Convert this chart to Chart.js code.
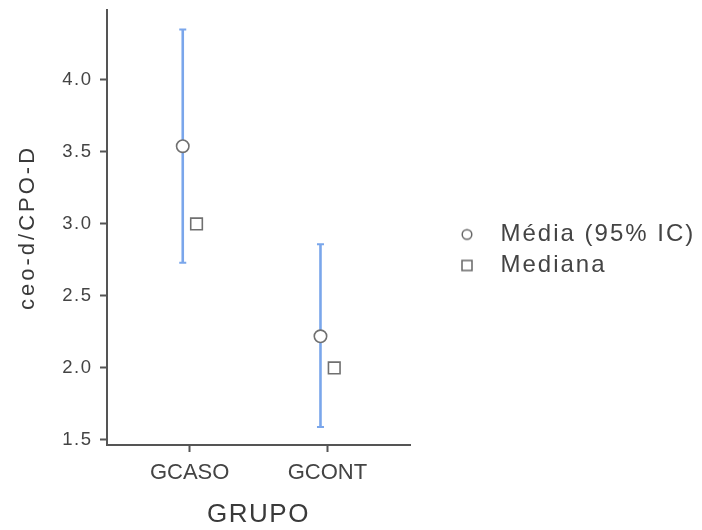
<!DOCTYPE html>
<html><head><meta charset="utf-8">
<script src="https://cdn.jsdelivr.net/npm/chart.js@4"></script>
<style>html,body{margin:0;padding:0;background:#fff}</style>
</head><body>
<canvas id="c" width="702" height="530"></canvas>
<script>
// ---- data ----
const categories = ['GCASO', 'GCONT'];
const meanValues = [3.54, 2.22];
const ciLower = [2.73, 1.59];
const ciUpper = [4.35, 2.86];
const medianValues = [3.0, 2.0];
const yTickValues = [1.5, 2.0, 2.5, 3.0, 3.5, 4.0];
const seriesNames = ['Média (95% IC)', 'Mediana'];
const xTitle = 'GRUPO';
const yTitle = 'ceo-d/CPO-D';

// ---- styling ----
const FONT = '"Liberation Sans", Arial, sans-serif';
const AXIS = '#555555';
const TEXT = '#444444';
const MARK = '#707070';
const BAR = '#7aa6eb';
const meanOffset = -0.05, medianOffset = 0.05;

function symbol(kind) {
  const cv = document.createElement('canvas');
  cv.width = 14; cv.height = 14;
  const g = cv.getContext('2d');
  g.strokeStyle = '#666'; g.fillStyle = '#fff'; g.lineWidth = 1.5;
  g.beginPath();
  if (kind === 'circle') g.arc(7, 7, 4.8, 0, Math.PI * 2);
  else g.rect(2, 2, 10, 10);
  g.fill(); g.stroke();
  return cv;
}
const legendSymbols = [symbol('circle'), symbol('rect')];

function wrap(obj, name, spacing, dx, dy) {
  if (!obj || obj['__w_' + name]) return;
  const orig = obj[name];
  obj[name] = function (...args) {
    const ctx = this.ctx;
    ctx.save();
    ctx.letterSpacing = spacing;
    if (dx || dy) ctx.translate(dx || 0, dy || 0);
    try { return orig.apply(this, args); } finally { ctx.restore(); }
  };
  obj['__w_' + name] = true;
}
function wrapFit(obj, width) {
  if (!obj || obj.__w_fit) return;
  const orig = obj.fit;
  obj.fit = function (...a) { const r = orig.apply(this, a); this.width = width; return r; };
  obj.__w_fit = true;
}

const tweaks = {
  id: 'tweaks',
  beforeLayout(chart) {
    wrap(chart.scales.y, 'drawLabels', '1.5px');
    wrap(chart.scales.y, 'drawTitle', '3px');
    wrap(chart.scales.x, 'drawTitle', '1.5px');
    wrapFit(chart.legend, 292);
    wrap(chart.legend, 'draw', '2px', 28.5, -20);
  }
};

const errorBars = {
  id: 'errorBars',
  beforeDatasetsDraw(chart) {
    const { ctx, scales: { x, y } } = chart;
    ctx.save();
    ctx.strokeStyle = BAR;
    categories.forEach((c, i) => {
      const px = x.getPixelForValue(i + meanOffset);
      const top = y.getPixelForValue(ciUpper[i]);
      const bot = y.getPixelForValue(ciLower[i]);
      ctx.lineWidth = 2.6;
      ctx.beginPath(); ctx.moveTo(px, top); ctx.lineTo(px, bot); ctx.stroke();
      ctx.lineWidth = 2;
      ctx.beginPath();
      ctx.moveTo(px - 3.5, top); ctx.lineTo(px + 3.5, top);
      ctx.moveTo(px - 3.5, bot); ctx.lineTo(px + 3.5, bot);
      ctx.stroke();
    });
    ctx.restore();
  }
};

new Chart(document.getElementById('c'), {
  type: 'scatter',
  data: {
    datasets: [
      {
        label: seriesNames[0],
        data: meanValues.map((v, i) => ({ x: i + meanOffset, y: v })),
        pointStyle: 'circle', pointRadius: 6.2,
        backgroundColor: '#ffffff', borderColor: MARK, borderWidth: 1.6
      },
      {
        label: seriesNames[1],
        data: medianValues.map((v, i) => ({ x: i + medianOffset, y: v })),
        pointStyle: 'rect', pointRadius: 8.2,
        backgroundColor: '#ffffff', borderColor: MARK, borderWidth: 1.6
      }
    ]
  },
  options: {
    responsive: false,
    animation: false,
    devicePixelRatio: 1,
    layout: { padding: { top: 10, left: 0, right: 0, bottom: 0 } },
    plugins: {
      tooltip: { enabled: false },
      legend: {
        position: 'right',
        align: 'center',
        labels: {
          usePointStyle: true,
          pointStyleWidth: 43,
          boxHeight: 8,
          padding: 7,
          color: TEXT,
          font: { family: FONT, size: 24 },
          generateLabels(chart) {
            const items = Chart.defaults.plugins.legend.labels.generateLabels(chart);
            items.forEach((it, i) => { it.pointStyle = legendSymbols[i]; });
            return items;
          }
        }
      }
    },
    scales: {
      x: {
        type: 'linear',
        min: -0.6, max: 1.6,
        afterBuildTicks(s) { s.ticks = categories.map((c, i) => ({ value: i })); },
        afterFit(s) { s.height = 85; s.paddingLeft = 0; s.paddingRight = 0; },
        ticks: {
          callback: (v) => categories[v],
          color: TEXT, padding: 8,
          font: { family: FONT, size: 22 },
          maxRotation: 0, autoSkip: false
        },
        grid: { display: true, drawOnChartArea: false, drawTicks: true, tickLength: 7, tickWidth: 2, tickColor: AXIS },
        border: { display: true, color: AXIS, width: 2 },
        title: { display: true, text: xTitle, color: '#3a3a3a', font: { family: FONT, size: 26 }, padding: { top: 0, bottom: 0 } }
      },
      y: {
        type: 'linear',
        min: 1.465, max: 4.486,
        afterBuildTicks(s) { s.ticks = yTickValues.map(v => ({ value: v })); },
        afterFit(s) { s.width = 107; s.paddingTop = 0; s.paddingBottom = 0; },
        ticks: {
          callback: (v) => Number(v).toFixed(1),
          color: TEXT, padding: 7.5,
          font: { family: FONT, size: 18.5 }
        },
        grid: { display: true, drawOnChartArea: false, drawTicks: true, tickLength: 7, tickWidth: 2, tickColor: AXIS },
        border: { display: true, color: AXIS, width: 2 },
        title: { display: true, text: yTitle, color: '#3a3a3a', font: { family: FONT, size: 22 }, padding: { top: 15, bottom: 0 } }
      }
    }
  },
  plugins: [tweaks, errorBars]
});
</script>
</body></html>
